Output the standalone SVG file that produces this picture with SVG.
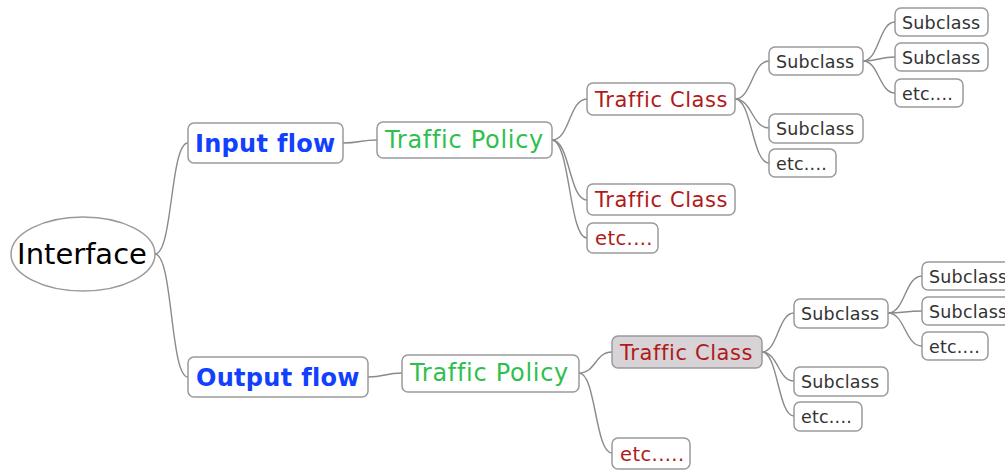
<svg xmlns="http://www.w3.org/2000/svg" width="1005" height="470" viewBox="0 0 1005 470">
<style>
text{font-family:"DejaVu Sans","Liberation Sans",sans-serif;dominant-baseline:central}
.box{fill:#fff;stroke:#9a9a9a;stroke-width:1.5}
.sel{fill:#d7d3d7;stroke:#9a9a9a;stroke-width:1.5}
.edge{fill:none;stroke:#8a8a8a;stroke-width:1.4}
.root{font-size:29px;fill:#000}
.flow{font-size:24px;font-weight:bold;fill:#1240ff;letter-spacing:0.3px}
.pol{font-size:24px;fill:#2fbf4f;letter-spacing:0.7px}
.cls{font-size:21px;fill:#b01a1a;letter-spacing:0.6px}
.etc{font-size:19.5px;fill:#b01a1a;letter-spacing:0.4px}
.sub{font-size:17.5px;fill:#333;letter-spacing:0.2px}
</style>
<rect width="1005" height="470" fill="#fff"/>
<g id="connectors">
<path class="edge" d="M155,254 C173,254 170,143 188,143"/>
<path class="edge" d="M155,254 C173,254 170,377 188,377"/>
<path class="edge" d="M343,143 C360,143 360,140 377,140"/>
<path class="edge" d="M552,140 C570,140 569,99 587,99"/>
<path class="edge" d="M552,140 C570,140 569,200 587,200"/>
<path class="edge" d="M552,140 C570,140 569,238 587,238"/>
<path class="edge" d="M735,99 C752,99 752,61 769,61"/>
<path class="edge" d="M735,99 C752,99 752,128 769,128"/>
<path class="edge" d="M735,99 C752,99 752,163 769,163"/>
<path class="edge" d="M863,61 C879,61 879,22 895,22"/>
<path class="edge" d="M863,61 C879,61 879,57 895,57"/>
<path class="edge" d="M863,61 C879,61 879,93 895,93"/>
<path class="edge" d="M368,377 C385,377 385,373 402,373"/>
<path class="edge" d="M579,373 C596,373 595,352 612,352"/>
<path class="edge" d="M579,373 C596,373 595,453 612,453"/>
<path class="edge" d="M762,352 C778,352 778,313 794,313"/>
<path class="edge" d="M762,352 C778,352 778,381 794,381"/>
<path class="edge" d="M762,352 C778,352 778,416 794,416"/>
<path class="edge" d="M888,313 C905,313 905,276 922,276"/>
<path class="edge" d="M888,313 C905,313 905,311 922,311"/>
<path class="edge" d="M888,313 C905,313 905,346 922,346"/>
</g>
<g id="interface"><ellipse class="box" cx="83" cy="254" rx="72" ry="37"/><text class="root" x="82" y="254" text-anchor="middle">Interface</text></g>
<g id="input-flow"><rect class="box" x="188" y="123" width="155" height="40" rx="6"/><text class="flow" x="195" y="144">Input  flow</text></g>
<g id="output-flow"><rect class="box" x="188" y="357" width="180" height="40" rx="6"/><text class="flow" x="196" y="378">Output  flow</text></g>
<g id="in-policy"><rect class="box" x="377" y="122" width="175" height="36" rx="6"/><text class="pol" x="385" y="140">Traffic Policy</text></g>
<g id="out-policy"><rect class="box" x="402" y="355" width="177" height="37" rx="6"/><text class="pol" x="410" y="373">Traffic Policy</text></g>
<g id="in-class1"><rect class="box" x="587" y="83" width="148" height="32" rx="6"/><text class="cls" x="595" y="99.5">Traffic Class</text></g>
<g id="in-class2"><rect class="box" x="587" y="184" width="148" height="31" rx="6"/><text class="cls" x="595" y="200">Traffic Class</text></g>
<g id="in-etc"><rect class="box" x="587" y="223" width="71" height="30" rx="6"/><text class="etc" x="595" y="238.5">etc....</text></g>
<g id="out-class"><rect class="sel" x="612" y="336" width="150" height="32" rx="6"/><text class="cls" x="620" y="352.5">Traffic Class</text></g>
<g id="out-etc"><rect class="box" x="612" y="438" width="78" height="31" rx="6"/><text class="etc" x="620" y="454">etc.....</text></g>
<g id="in-sub1"><rect class="box" x="769" y="47" width="94" height="28" rx="6"/><text class="sub" x="776" y="61.5">Subclass</text></g>
<g id="in-sub2"><rect class="box" x="769" y="114" width="94" height="29" rx="6"/><text class="sub" x="776" y="128.5">Subclass</text></g>
<g id="in-sub-etc"><rect class="box" x="769" y="149" width="67" height="28" rx="6"/><text class="sub" x="776" y="163.5">etc....</text></g>
<g id="in-sub1a"><rect class="box" x="895" y="8" width="93" height="28" rx="6"/><text class="sub" x="902" y="22.5">Subclass</text></g>
<g id="in-sub1b"><rect class="box" x="895" y="43" width="93" height="28" rx="6"/><text class="sub" x="902" y="57.5">Subclass</text></g>
<g id="in-sub1-etc"><rect class="box" x="895" y="79" width="68" height="28" rx="6"/><text class="sub" x="902" y="93.5">etc....</text></g>
<g id="out-sub1"><rect class="box" x="794" y="299" width="94" height="29" rx="6"/><text class="sub" x="801" y="313.5">Subclass</text></g>
<g id="out-sub2"><rect class="box" x="794" y="367" width="94" height="29" rx="6"/><text class="sub" x="801" y="381.5">Subclass</text></g>
<g id="out-sub-etc"><rect class="box" x="794" y="402" width="68" height="29" rx="6"/><text class="sub" x="801" y="416.5">etc....</text></g>
<g id="out-sub1a"><rect class="box" x="922" y="262" width="93" height="28" rx="6"/><text class="sub" x="929" y="276.5">Subclass</text></g>
<g id="out-sub1b"><rect class="box" x="922" y="297" width="93" height="28" rx="6"/><text class="sub" x="929" y="311.5">Subclass</text></g>
<g id="out-sub1-etc"><rect class="box" x="922" y="332" width="66" height="28" rx="6"/><text class="sub" x="929" y="346.5">etc....</text></g>
</svg>
